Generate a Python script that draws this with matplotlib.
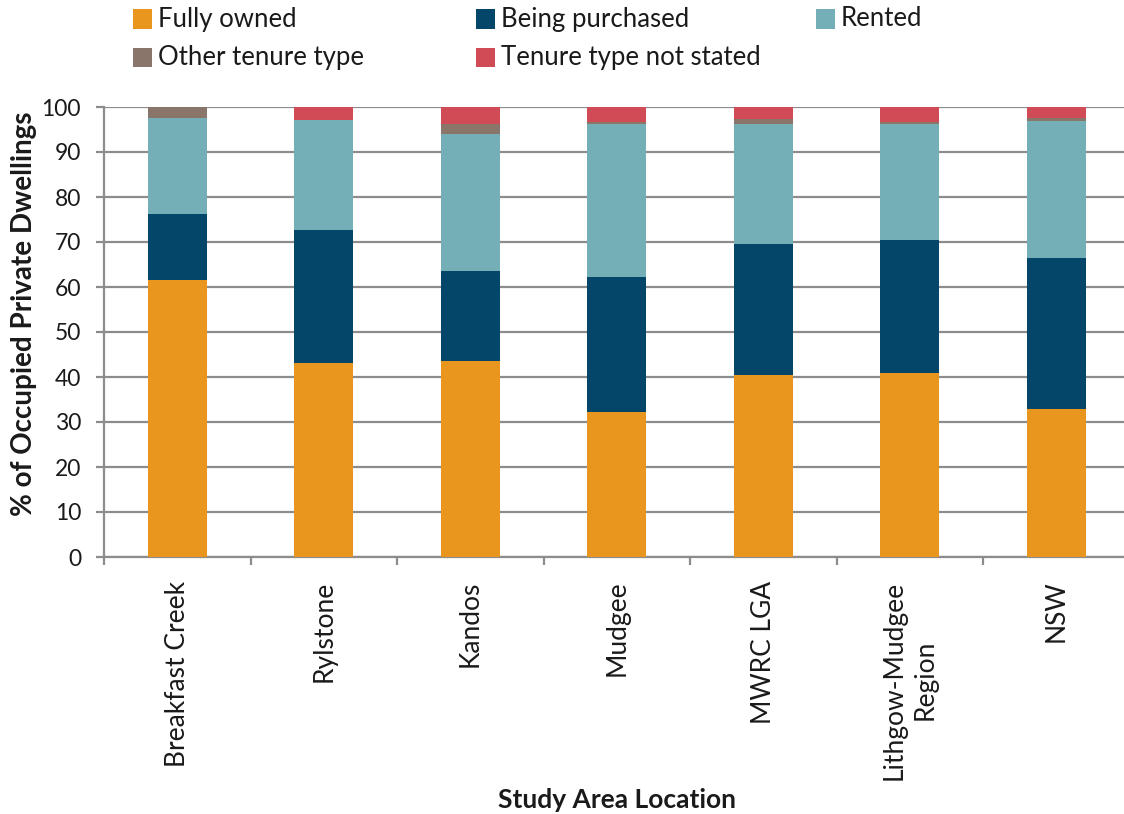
import matplotlib
matplotlib.use("Agg")
import matplotlib.pyplot as plt
from matplotlib.patches import Rectangle
import numpy as np

categories = ["Breakfast Creek", "Rylstone", "Kandos", "Mudgee", "MWRC LGA",
              "Lithgow-Mudgee\nRegion", "NSW"]
series_names = ["Fully owned", "Being purchased", "Rented",
                "Other tenure type", "Tenure type not stated"]
fully_owned = [61.5, 43.1, 43.6, 32.2, 40.5, 41.0, 33.0]
being_purchased = [14.8, 29.6, 20.0, 30.1, 29.1, 29.5, 33.5]
rented = [21.3, 24.5, 30.5, 34.0, 26.7, 25.8, 30.3]
other_tenure = [2.4, 0.0, 2.2, 0.3, 1.0, 0.3, 0.8]
not_stated = [0.0, 2.8, 3.6, 3.4, 2.7, 3.4, 2.4]
y_ticks = [0, 10, 20, 30, 40, 50, 60, 70, 80, 90, 100]

colors = ["#E8961E", "#03466A", "#74AFB8", "#8A756B", "#D14B56"]
series = [fully_owned, being_purchased, rented, other_tenure, not_stated]

TEXT = "#1a1a1a"
FONT = "Lato"

W, H = 1124, 814
fig = plt.figure(figsize=(W / 100, H / 100), dpi=100)
ax = fig.add_axes([104 / W, 1 - 557 / H, (1129.5 - 104) / W, (557 - 107) / H])

x = np.arange(len(categories))
bottom = np.zeros(len(categories))
for vals, col in zip(series, colors):
    v = np.array(vals)
    ax.bar(x, v, width=0.4, bottom=bottom, color=col, edgecolor="none", zorder=3)
    bottom += v

grid_col = "#8C8C8C"
ax.set_xlim(-0.5, len(categories) - 0.5)
ax.set_ylim(0, 100)
ax.set_yticks(y_ticks)
ax.yaxis.grid(True, color=grid_col, linewidth=1.6, zorder=0)
ax.set_axisbelow(True)
for s in ["top", "right"]:
    ax.spines[s].set_visible(False)
for s in ["left", "bottom"]:
    ax.spines[s].set_color(grid_col)
    ax.spines[s].set_linewidth(1.6)

ax.tick_params(axis="y", direction="out", length=5.5, width=1.6, color=grid_col,
               pad=11, labelsize=16.5, labelcolor=TEXT)
for lab in ax.get_yticklabels():
    lab.set_fontfamily(FONT)

# labels at the bar centres, tick marks between categories
ax.set_xticks(x)
ax.set_xticklabels(categories, rotation=90, ha="center", va="top",
                   multialignment="center", fontfamily=FONT, fontsize=19,
                   color=TEXT, linespacing=1.3)
ax.tick_params(axis="x", which="major", length=0, pad=17)
ax.set_xticks(np.arange(-0.5, len(categories) + 0.5, 1.0), minor=True)
ax.tick_params(axis="x", which="minor", direction="out", length=6,
               width=1.6, color=grid_col)

fig.text(24 / W, 1 - 314 / H, "% of Occupied Private Dwellings", rotation=90,
         ha="center", va="center", fontfamily=FONT, fontweight="bold",
         fontsize=20, color=TEXT)
fig.text(617 / W, 1 - 800 / H, "Study Area Location", ha="center",
         va="center", fontfamily=FONT, fontweight="bold", fontsize=19,
         color=TEXT)

# legend: three columns, two rows
col_x = [133, 476, 816]
row_y = [19, 57]
sw = 19
for i, (name, col) in enumerate(zip(series_names, colors)):
    r, c = divmod(i, 3)
    cx, cy = col_x[c], row_y[r]
    fig.patches.append(Rectangle((cx / W, 1 - (cy + sw / 2) / H), sw / W, sw / H,
                                 transform=fig.transFigure, facecolor=col,
                                 edgecolor="none"))
    fig.text((cx + sw + 6) / W, 1 - cy / H, name, ha="left", va="center",
             fontfamily=FONT, fontsize=18.5, color=TEXT)

fig.savefig("out.png", dpi=100, facecolor="white")
